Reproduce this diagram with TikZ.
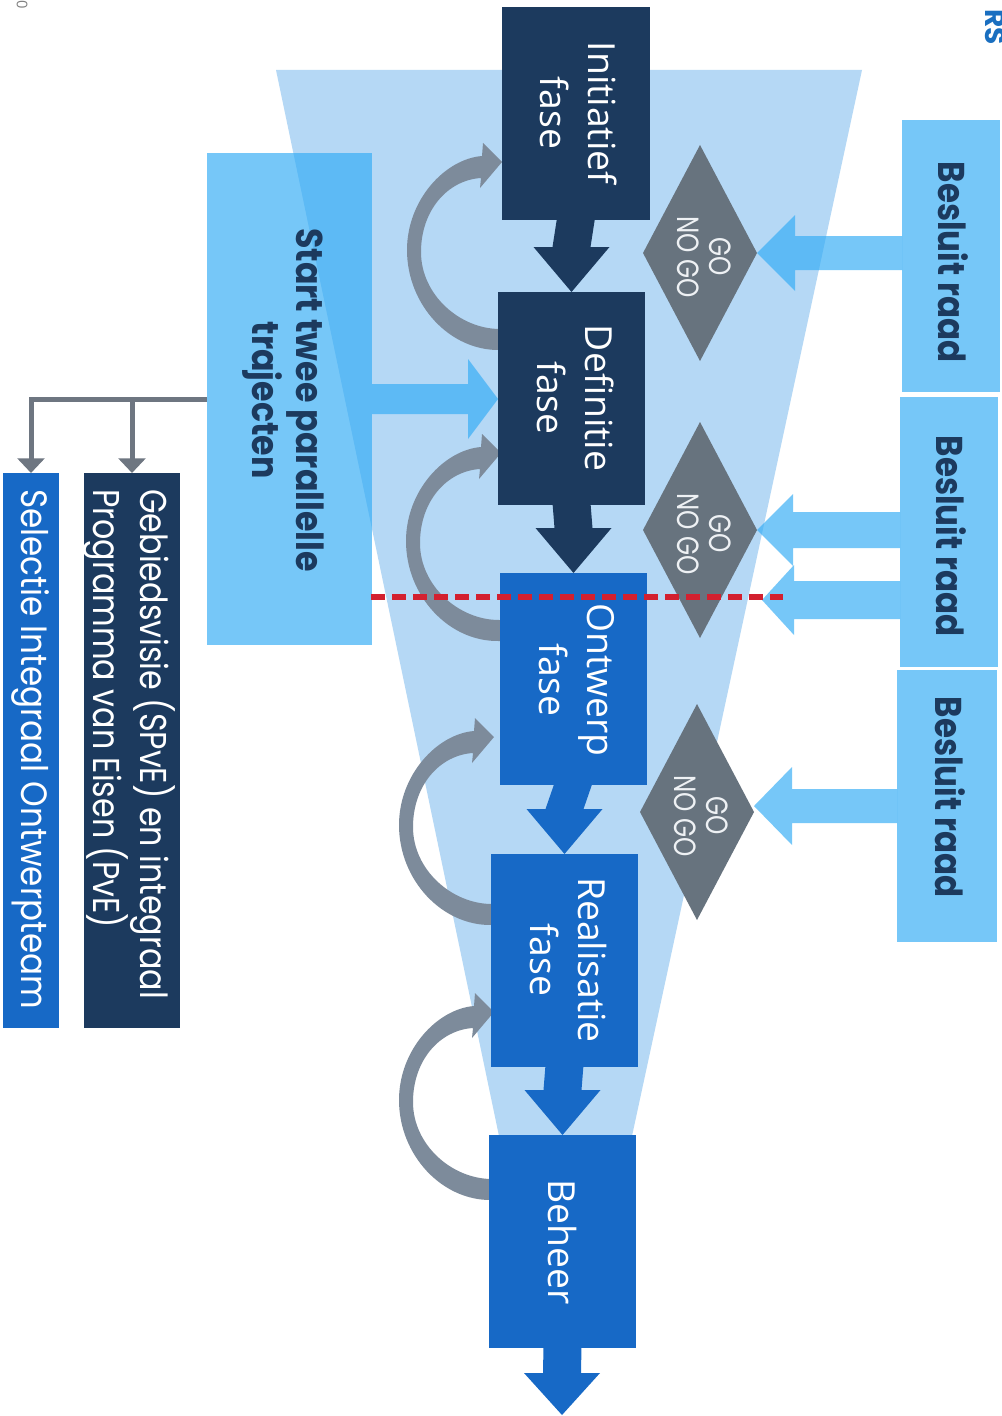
\documentclass[tikz,border=0pt]{standalone}
\usepackage{fontspec}
\usepackage{graphicx}
\setmainfont{Open Sans}
\newfontfamily\pop{Poppins}
\usetikzlibrary{shapes.geometric,calc,arrows.meta}
\definecolor{navy}{HTML}{1C3A5E}
\definecolor{blueph}{HTML}{1769C6}
\definecolor{funnel}{HTML}{B5D8F5}
\definecolor{lb}{HTML}{2EAAF5}
\definecolor{dgray}{HTML}{67737E}
\definecolor{cgray}{HTML}{7D8B9B}
\definecolor{redl}{HTML}{D3202F}
\definecolor{lgray}{HTML}{6E7681}
\definecolor{gotext}{HTML}{EEF1F4}
\definecolor{rsblue}{HTML}{1A6FC0}
\newcommand\fs[2]{\fontsize{#1}{#2}\selectfont}
\newcommand\pbox[6]{\node[#6, minimum width={(#4-#2)*0.75pt}, minimum height={(#5-#3)*0.75pt}] (#1) at ({(#2+#4)/2},{(#3+#5)/2}) {};}
\newcommand\fbloop[1]{\fill[cgray, shift={#1}] (6,0) -- (0,0) .. controls (-50,1) and (-93,-45) .. (-93,-100) .. controls (-93,-150) and (-55,-191) .. (-18,-194) -- (-17,-207) -- (2,-188) -- (-20,-162) -- (-19,-172) .. controls (-52,-170) and (-79,-140) .. (-79,-98) .. controls (-79,-55) and (-40,-21) .. (0,-21) -- (6,-21) -- cycle;}
\newcommand\pdown[3]{\fill[#3] ($(#1.south)+(-19,-2)$) -- ($(#2.north)+(-19,-45)$) -- ($(#2.north)+(-38,-45)$) -- (#2.north) -- ($(#2.north)+(38,-45)$) -- ($(#2.north)+(19,-45)$) -- ($(#1.south)+(19,-2)$) -- cycle;}
% #1 base coordinate (on box edge, at shaft centre), #2 tip, #3 half shaft, #4 half head, #5 head length (negative: points right)
\newcommand\larrow[5]{\fill[lb, fill opacity=0.65] ($(#1)+(0,-#3)$) -- ($(#2)+(#5,-#3)$) -- ($(#2)+(#5,-#4)$) -- (#2) -- ($(#2)+(#5,#4)$) -- ($(#2)+(#5,#3)$) -- ($(#1)+(0,#3)$) -- cycle;}
\begin{document}
\begin{tikzpicture}[x=0.75pt,y=-0.75pt,
  box/.style={rectangle, inner sep=0pt, outer sep=0pt, draw=none},
  dia/.style={diamond, fill=dgray, inner sep=0pt, outer sep=0pt, minimum width=114*0.75pt, minimum height=216*0.75pt},
  gline/.style={draw=lgray, line width=3.75pt},
  ghead/.style={-{Triangle[width=20pt,length=11pt]}},
  rtxt/.style={rotate=-90, inner sep=0pt}]
\useasboundingbox (0,0) rectangle (1002,1416);
\fill[white] (0,0) rectangle (1002,1416);
% funnel
\fill[funnel] (276,70) -- (862,70) -- (632,1136) -- (499,1136) -- cycle;
% start box
\pbox{start}{207}{153}{372}{645}{box, fill=lb, fill opacity=0.65}
% phase boxes (named here, painted again after the loops)
\pbox{init}{502}{7}{650}{220}{box, fill=navy}
\pbox{defi}{498}{292}{645}{505}{box, fill=navy}
\pbox{ontw}{500}{573}{647}{785}{box, fill=blueph}
\pbox{real}{491}{854}{638}{1067}{box, fill=blueph}
\pbox{beh}{489}{1135}{636}{1348}{box, fill=blueph}
% start arrow
\coordinate (sa) at (start.east);
\coordinate (satip) at (defi.west |- sa);
\larrow{sa}{satip}{15}{40}{-30}
% feedback loops
\fbloop{($(defi.north west)+(2,58)$)}
\fbloop{($(ontw.north west)+(-1,68)$)}
\fbloop{($(real.north west)+(1,71)$)}
\fbloop{($(beh.north west)+(3,65)$)}
% phase boxes on top of loops
\fill[navy] (init.north west) rectangle (init.south east);
\fill[navy] (defi.north west) rectangle (defi.south east);
\fill[blueph] (ontw.north west) rectangle (ontw.south east);
\fill[blueph] (real.north west) rectangle (real.south east);
\fill[blueph] (beh.north west) rectangle (beh.south east);
% down arrows
\pdown{init}{defi}{navy}
\pdown{defi}{ontw}{navy}
\pdown{ontw}{real}{blueph}
\pdown{real}{beh}{blueph}
\coordinate (out) at (562,1415);
\fill[blueph] ($(beh.south)+(-19,-2)$) -- ($(out)+(-19,-42)$) -- ($(out)+(-38,-42)$) -- (out) -- ($(out)+(38,-42)$) -- ($(out)+(19,-42)$) -- ($(beh.south)+(19,-2)$) -- cycle;
% besluit boxes
\pbox{b1}{902}{120}{1000}{392}{box, fill=lb, fill opacity=0.65}
\pbox{b2}{900}{397}{998}{667}{box, fill=lb, fill opacity=0.65}
\pbox{b3}{897}{670}{997}{942}{box, fill=lb, fill opacity=0.65}
% diamonds
\node[dia] (d1) at (700,253) {};
\node[dia] (d2) at (700,530) {};
\node[dia] (d3) at (697,812) {};
% besluit arrows
\coordinate (a1) at (b1.west |- d1.east);
\larrow{a1}{d1.east}{17}{38}{38}
\coordinate (a2) at (b2.west |- d2.east);
\larrow{a2}{d2.east}{18}{36}{36}
\coordinate (rtip) at (762,600);
\coordinate (a2b) at (b2.west |- rtip);
\larrow{a2b}{rtip}{19}{35}{32}
\coordinate (a3t) at (754,806);
\coordinate (a3) at (b3.west |- a3t);
\larrow{a3}{a3t}{17}{39}{38}
% texts
\node[rtxt, text=white] (tinit) at (574,113) {\fs{28}{36}\begin{tabular}{@{}c@{}}Initiatief\\fase\end{tabular}};
\node[rtxt, text=white] (tdefi) at (571,398) {\fs{28}{36}\begin{tabular}{@{}c@{}}Definitie\\fase\end{tabular}};
\node[rtxt, text=white] (tontw) at (573,680) {\fs{28}{36}\begin{tabular}{@{}c@{}}Ontwerp\\fase\end{tabular}};
\node[rtxt, text=white] (treal) at (564,960) {\fs{28}{36}\begin{tabular}{@{}c@{}}Realisatie\\fase\end{tabular}};
\node[rtxt, text=white] (tbeh) at (562,1242) {\fs{28}{36}Beheer};
\foreach \d in {d1,d2,d3}{
  \node[rtxt, text=gotext] at ($(\d.center)+(0,4)$) {\pop\fs{23}{24.5}\scalebox{0.8}[1]{\begin{tabular}{@{}c@{}}GO\\NO GO\end{tabular}}};
}
\node[rtxt, text=navy] (tb1) at (953,262) {\pop\bfseries\fs{28}{30}\scalebox{0.87}[1]{Besluit raad}};
\node[rtxt, text=navy] (tb2) at (951,536) {\pop\bfseries\fs{28}{30}\scalebox{0.87}[1]{Besluit raad}};
\node[rtxt, text=navy] (tb3) at (950,797) {\pop\bfseries\fs{28}{30}\scalebox{0.87}[1]{Besluit raad}};
\node[rtxt, text=navy] (tstart) at (283,400) {\pop\bfseries\fs{28}{33}\scalebox{0.89}[1]{\begin{tabular}{@{}c@{}}Start twee parallelle\\trajecten\end{tabular}}};
% left boxes
\pbox{geb}{84}{473}{180}{1028}{box, fill=navy}
\pbox{sel}{3}{473}{59}{1028}{box, fill=blueph}
\node[rtxt, text=white, anchor=west] (tgeb) at (128,489) {\pop\fs{28}{31.5}\scalebox{0.85}[1]{\begin{tabular}{@{}l@{}}Gebiedsvisie (SPvE) en integraal\\Programma van Eisen (PvE)\end{tabular}}};
\node[rtxt, text=white, anchor=west] (tsel) at (31,489) {\pop\fs{27.5}{30}\scalebox{0.89}[1]{Selectie Integraal Ontwerpteam}};
% grey connectors
\draw[gline, ghead] (start.west) -| (sel.north);
\draw[gline, ghead] (start.west -| geb.north) -- (geb.north);
% red dashed line
\coordinate (r1) at (371,597);
\coordinate (r2) at (783,597);
\draw[redl, line width=4.5pt, dash pattern=on 10.5pt off 5.25pt] (r1) -- (r2);
% fragments
\node[rtxt, text=rsblue, anchor=west] (rs) at (995,9) {\pop\bfseries\fs{21}{21}RS};
\node[rtxt, text=gray] (zero) at (22,5) {\fs{11}{11}0};
\end{tikzpicture}
\end{document}
